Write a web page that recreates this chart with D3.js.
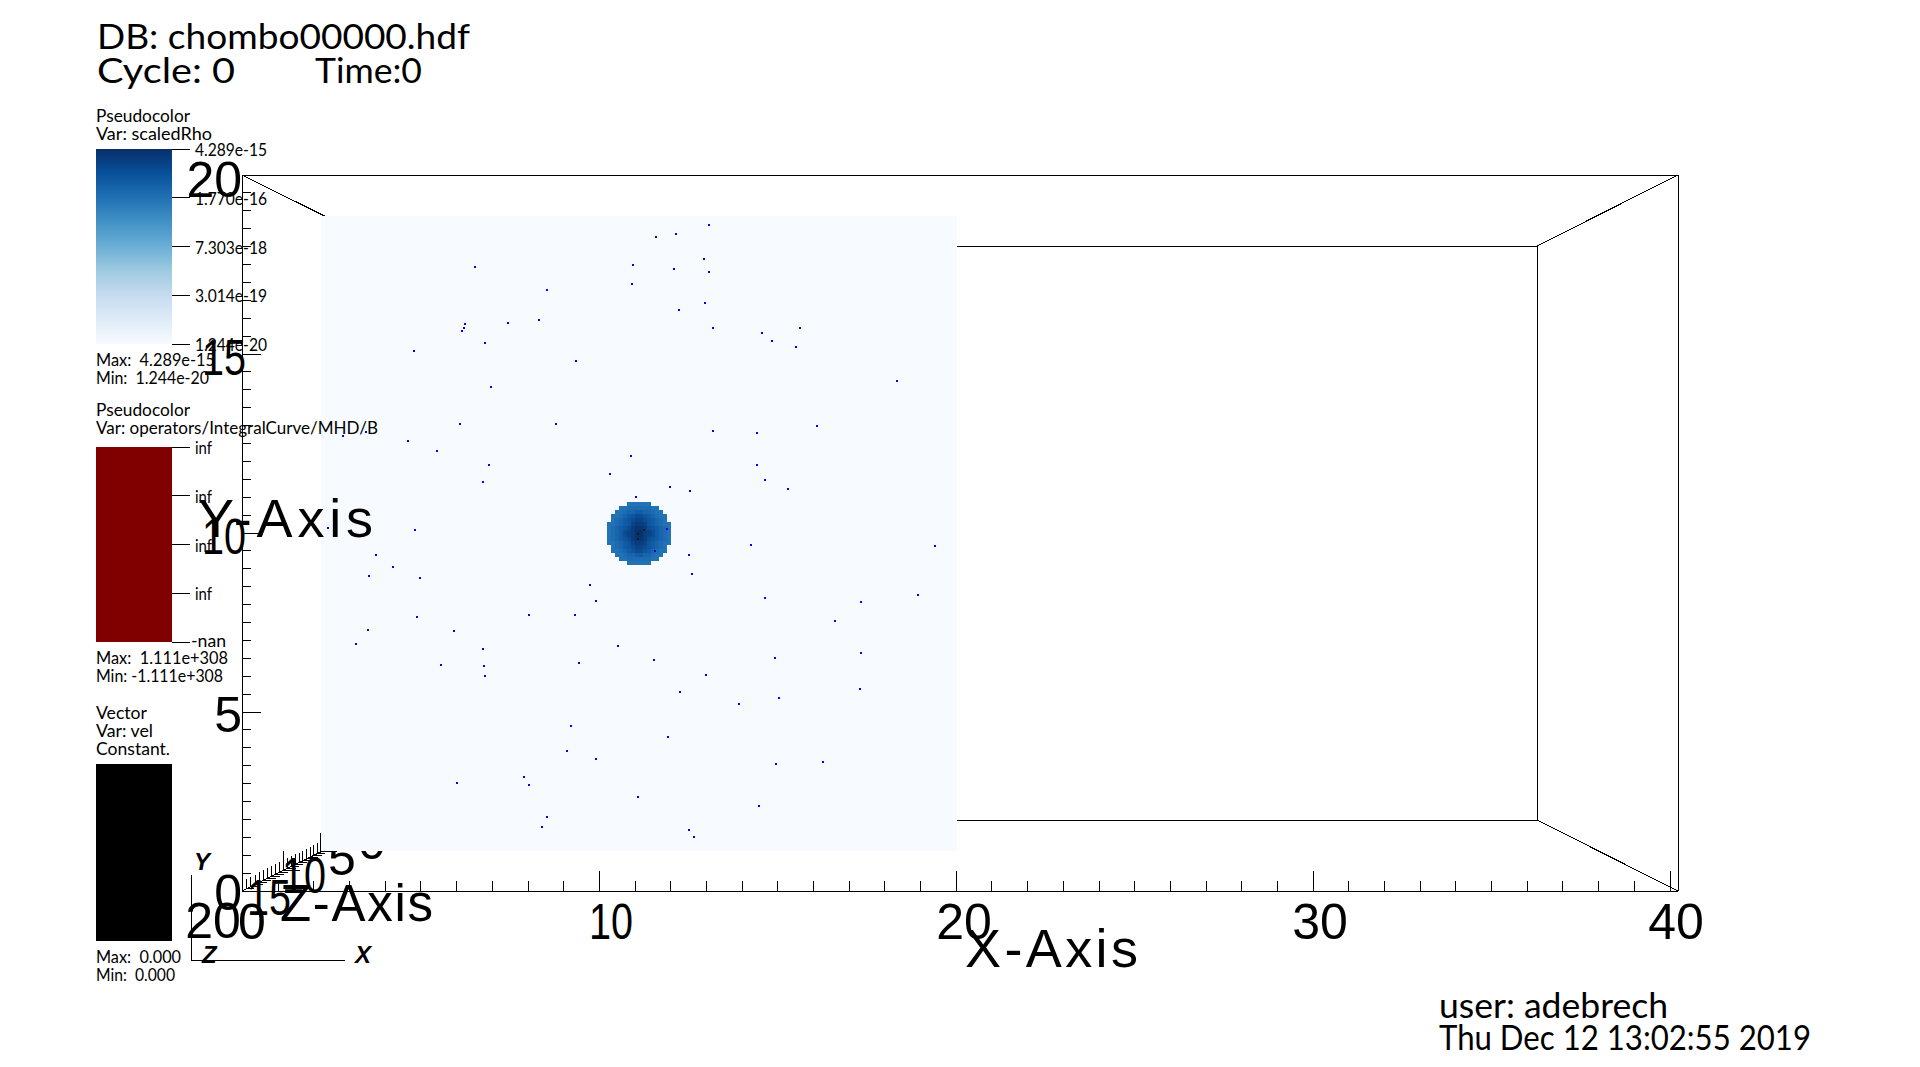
<!DOCTYPE html>
<html><head><meta charset="utf-8">
<script src="https://cdnjs.cloudflare.com/ajax/libs/d3/7.8.5/d3.min.js"></script>
<style>html,body{margin:0;padding:0;background:#fff;overflow:hidden}svg{display:block}</style>
</head><body><svg id="c" width="1920" height="1067"></svg>
<script>
const seedX=[10.53,9.81,9.78,4.84,7.11,6.86,5.88,4.53,4.50,4.43,5.16,2.92,8.02,5.35,4.37,7.39,0.69,1.42,2.74,3.65,5.28,5.09,9.75,9.09,9.91,2.96,0.22,0.44,12.20,11.16,12.04,11.10,12.20,12.08,11.26,12.33,13.87,15.06,14.18,14.94,18.11,12.33,13.71,15.60,13.71,13.96,14.69,10.97,11.60,10.88,1.73,2.26,1.51,3.11,3.02,1.48,1.10,4.18,5.09,5.13,5.16,3.77,6.54,7.99,8.46,8.65,9.34,8.11,10.47,10.50,7.86,7.74,8.65,6.38,6.54,4.28,9.97,7.11,6.95,13.52,19.31,11.57,11.67,13.96,16.98,18.77,16.16,16.98,14.28,14.40,16.95,12.11,11.29,13.14,10.91,14.31,15.79,13.77,11.57,11.73];
const seedY=[19.34,18.46,17.86,18.39,17.67,16.72,16.63,16.60,16.47,16.38,16.00,15.75,15.43,14.61,13.45,13.45,13.07,13.20,12.91,12.60,12.16,11.62,12.44,11.87,11.15,10.11,10.17,10.05,19.72,19.43,18.65,18.33,18.24,17.26,17.04,16.47,16.31,16.47,16.06,15.87,14.80,13.23,13.17,13.39,12.16,11.69,11.40,11.46,11.34,10.14,9.32,8.94,8.66,8.60,7.37,6.96,6.52,6.93,6.36,5.83,5.51,5.86,7.43,7.43,8.38,7.87,6.46,5.92,6.02,9.45,3.94,3.15,2.90,2.33,2.08,2.14,1.70,1.07,0.76,9.64,9.61,9.32,8.72,7.97,7.84,8.06,7.24,6.24,6.08,4.82,5.10,5.54,5.01,4.63,3.59,2.74,2.80,1.42,0.66,0.44];
const coreX=[9.97,10.16,9.97];
const coreY=[9.99,10.10,9.83];
const rhoRows=[
".....000000.....",
"...0011111100...",
"..001223322100..",
".00123455432100.",
".01234566543210.",
"0012346776432100",
"0123457887543210",
"0123567997653210",
"0123567997653210",
"0123457887543210",
"0012346776432100",
".01234566543210.",
".00123455432100.",
"..001223322100..",
"...0011111100...",
".....000000....."];
const rhoLevelColors=["#2272b6","#1d6cb1","#1765ac","#115ca5","#0d559e","#0b4d94","#0a4386","#0a3b7a","#083570","#08306b"];
const blues=["#f7fbff","#deebf7","#c6dbef","#9ecae1","#6baed6","#4292c6","#2171b5","#08519c","#08306b"];
const rhoTicks=["4.289e-15","1.770e-16","7.303e-18","3.014e-19","1.244e-20"];
const curveTicks=["inf","inf","inf","inf","-nan"];
const xMajor=[0,10,20,30,40], yMajor=[0,5,10,15,20], zMajor=[20,15,10,5,0];

const LEG="Lato", AX="Liberation Sans";
const svg=d3.select("#c");
const x=d3.scaleLinear().domain([0,40]).range([242.5,1670]);
const y=d3.scaleLinear().domain([0,20]).range([891,175]);
const px=d3.scaleLinear().domain([0,20]).range([321,957]);
const py=d3.scaleLinear().domain([0,20]).range([851,216]);
const zInv=d3.scaleLinear().domain([20,0]).range([1/1436,1/1152]);
const zW=z=>1/zInv(z), zx=z=>960-zW(z)/2, zy=z=>533+zW(z)*716/1436/2;
const xLab=d3.scaleLinear().domain([0,40]).range([252,1676]);
const yLab=d3.scaleLinear().domain([0,20]).range([910,197]);
const zLabX=d3.scaleLinear().domain(zMajor).range([213,269,304,342,372]);
const zLabY=d3.scaleLinear().domain(zMajor).range([938,915,893,875,859]);

function line(g,a,b,c,d,w){return g.append("line").attr("x1",a).attr("y1",b).attr("x2",c).attr("y2",d).attr("stroke","#000").attr("stroke-width",w||1).attr("shape-rendering","crispEdges");}
function text(g,s,tx,ty,size,opt){opt=opt||{};const t=g.append("text").text(s).attr("x",tx).attr("y",ty).attr("font-size",size).attr("fill","#000").attr("font-family",opt.f||LEG).attr("font-weight",opt.w||400).attr("xml:space","preserve").style("white-space","pre");
 if(opt.a)t.attr("text-anchor",opt.a); if(opt.i)t.attr("font-style","italic"); if(opt.len)t.attr("textLength",opt.len).attr("lengthAdjust",opt.adj||"spacingAndGlyphs"); return t;}
const axisNum=v=>String(v)[0]==="1"?44:null;

// box and z axis, behind the plane
const back=svg.append("g");
line(back,957,246,1537,246);line(back,957,820,1537,820);line(back,1537,246,1537,820);
line(back,242,175,385,246);line(back,1678,175,1537,246);line(back,1678,891,1537,820);line(back,242,891,385,820);
d3.range(0,20.01,0.5).forEach(z=>{const maj=z%5===0;
  line(back,zx(z),zy(z),zx(z),zy(z)-(maj?19:10));
  line(back,zx(z),zy(z),zx(z)+(maj?16:8),zy(z));});
zMajor.forEach(z=>text(back,String(z),zLabX(z),zLabY(z),50,{f:AX,a:"middle",len:axisNum(z)}));

// slice
const plane=svg.append("g").attr("shape-rendering","crispEdges");
plane.append("rect").attr("x",px(0)).attr("y",py(20)).attr("width",px(20)-px(0)).attr("height",py(0)-py(20)).attr("fill","#f7fbff");
const cell=0.125;
rhoRows.forEach((row,r)=>row.split("").forEach((ch,c)=>{ if(ch===".")return;
  const v0=9+c*cell,u1=11-r*cell;
  plane.append("rect").attr("x",Math.round(px(v0))).attr("y",Math.round(py(u1))).attr("width",Math.round(px(v0+cell))-Math.round(px(v0))).attr("height",Math.round(py(u1-cell))-Math.round(py(u1))).attr("fill",rhoLevelColors[+ch]);}));
plane.selectAll("rect.core").data(coreX).join("rect").attr("class","core").attr("x",(d,i)=>Math.round(px(d))-1).attr("y",(d,i)=>Math.round(py(coreY[i]))-1).attr("width",2).attr("height",2).attr("fill","#141c2c");
plane.selectAll("rect.seed").data(seedX).join("rect").attr("class","seed").attr("x",d=>Math.round(px(d))-1).attr("y",(d,i)=>Math.round(py(seedY[i]))-1).attr("width",2).attr("height",2).attr("fill","#0000ff");

// front box and axes
const ax=svg.append("g");
line(ax,242,175,1678,175);line(ax,1678,175,1678,891);
line(ax,242,891,1678,891);line(ax,242,175,242,891);
d3.range(0,20.01,0.5).forEach(v=>{const m=v%5===0;line(ax,242,y(v),m?261:251,y(v));});
d3.range(0,40.01,1).forEach(v=>{const m=v%10===0;line(ax,x(v),891,x(v),891-(m?20:10));});

// legends
const leg=svg.append("g");
const cs=d3.scaleLinear().domain(blues.map((d,i)=>i/8)).range(blues);
const bar=svg.append("g").attr("shape-rendering","crispEdges");
d3.range(0,195).forEach(i=>bar.append("rect").attr("x",96).attr("y",149+i).attr("width",76).attr("height",1).attr("fill",cs(1-i/194)));
bar.append("rect").attr("x",96).attr("y",447).attr("width",76).attr("height",195).attr("fill","#800000");
bar.append("rect").attr("x",96).attr("y",764).attr("width",76).attr("height",177).attr("fill","#000");
const t1=d3.scalePoint().domain(d3.range(5)).range([149,344]);
const t2=d3.scalePoint().domain(d3.range(5)).range([447,642]);
rhoTicks.forEach((s,i)=>{line(leg,172,t1(i),190,t1(i));text(leg,s,195,t1(i)+7,17,{len:72});});
curveTicks.forEach((s,i)=>{line(leg,172,t2(i),190,t2(i));text(leg,s,i==4?191:195,t2(i)+(i==4?5:7),17,{len:i==4?35:17});});
const L=[["Pseudocolor",96,122,94],["Var: scaledRho",96,140,116],["Max:  4.289e-15",96,366,119],["Min:  1.244e-20",96,384,113],
["Pseudocolor",96,416,94],["Var: operators/IntegralCurve/MHD/B",96,434,282],["Max:  1.111e+308",96,664,132],["Min: -1.111e+308",96,682,127],
["Vector",96,719,51],["Var: vel",96,737,57],["Constant.",96,755,74],["Max:  0.000",96,963,85],["Min:  0.000",96,981,79]];
L.forEach(d=>text(leg,d[0],d[1],d[2],17,{len:d[3]}));

const T=[["DB: chombo00000.hdf",97,49,373],["Cycle: 0",97,83,138],["Time:0",315,83,107],["user: adebrech",1439,1018,229],["Thu Dec 12 13:02:55 2019",1439,1050,372]];
T.forEach(d=>text(leg,d[0],d[1],d[2],34,{len:d[3]}));

// axis numbers and titles
xMajor.forEach(v=>text(ax,String(v),v===10?xLab(v)+3:xLab(v),939,50,{f:AX,a:"middle",len:axisNum(v)}));
yMajor.forEach(v=>text(ax,String(v),axisNum(v)?246:242,yLab(v),50,{f:AX,a:"end",len:axisNum(v)}));
text(ax,"X-Axis",965,967,54,{f:AX,len:173,adj:"spacing"});
text(ax,"Y-Axis",198,537,54,{f:AX,len:175,adj:"spacing"});
text(ax,"Z-Axis",280,921,51,{f:AX,len:153,adj:"spacing"});

// triad
const tr=svg.append("g");
line(tr,191,875,191,960);line(tr,191,960,345,960);
text(tr,"Y",194,870,24,{f:AX,w:700,i:1});text(tr,"Z",202,963,24,{f:AX,w:700,i:1});text(tr,"X",355,963,24,{f:AX,w:700,i:1});
</script></body></html>
